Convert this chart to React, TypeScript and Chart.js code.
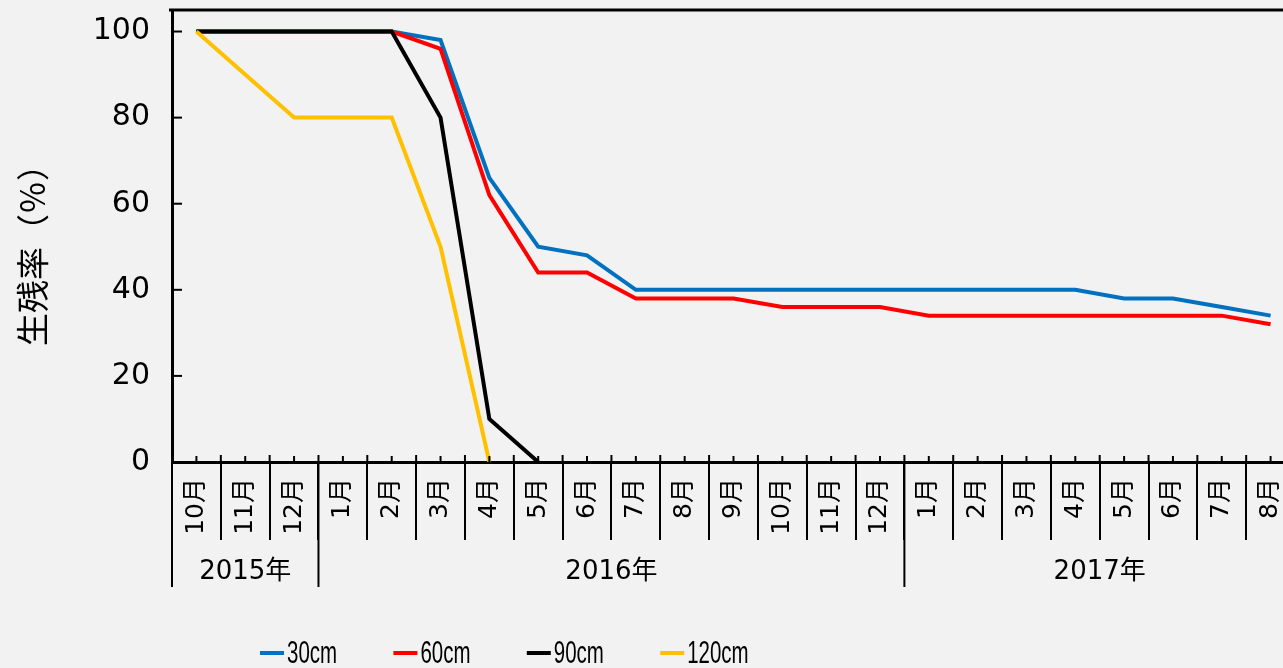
import React, { useEffect, useRef } from 'react';
import { Chart, registerables } from 'chart.js';

Chart.register(...registerables);

const MONTHS = ['10月', '11月', '12月', '1月', '2月', '3月', '4月', '5月', '6月', '7月', '8月', '9月', '10月', '11月', '12月', '1月', '2月', '3月', '4月', '5月', '6月', '7月', '8月'];
const YEAR_LABELS = ['2015年', '2016年', '2017年'];
const YEAR_SPANS = [3, 12, 8];
const Y_TICKS = [0, 20, 40, 60, 80, 100];
const Y_TITLE = '生残率（％）';
const SERIES_LABELS = ['30cm', '60cm', '90cm', '120cm'];
const SERIES_COLORS = ['#0070C0', '#FF0000', '#000000', '#FFC000'];

const S30 = [100, 100, 100, 100, 100, 98, 66, 50, 48, 40, 40, 40, 40, 40, 40, 40, 40, 40, 40, 38, 38, 36, 34];
const S60 = [100, 100, 100, 100, 100, 96, 62, 44, 44, 38, 38, 38, 36, 36, 36, 34, 34, 34, 34, 34, 34, 34, 32];
const S90 = [100, 100, 100, 100, 100, 80, 10, 0, null, null, null, null, null, null, null, null, null, null, null, null, null, null, null];
const S120 = [100, 90, 80, 80, 80, 50, 0, null, null, null, null, null, null, null, null, null, null, null, null, null, null, null, null];

const SERIES = [S30, S60, S90, S120];

const FONT_NUM = '"DejaVu Sans", "Noto Sans CJK JP", sans-serif';

const decorPlugin = {
  id: 'decor',
  afterDraw(chart: any) {
    const { ctx, chartArea, scales } = chart;
    const xs = scales.x;
    const ys = scales.y;
    const n = MONTHS.length;
    const half = (xs.getPixelForValue(1) - xs.getPixelForValue(0)) / 2;
    const boundary = (i: number) => (i < n ? xs.getPixelForValue(i) - half : xs.getPixelForValue(n - 1) + half);
    const bottom = chartArea.bottom;
    const line = (x1: number, y1: number, x2: number, y2: number) => {
      ctx.beginPath();
      ctx.moveTo(x1, y1);
      ctx.lineTo(x2, y2);
      ctx.stroke();
    };
    ctx.save();
    ctx.strokeStyle = '#000';
    ctx.lineCap = 'butt';
    // top frame
    ctx.lineWidth = 3;
    line(chartArea.left - 3, chartArea.top, chartArea.right, chartArea.top);
    // inner y tick marks
    ctx.lineWidth = 2;
    for (const v of Y_TICKS) {
      const py = ys.getPixelForValue(v);
      line(chartArea.left, py, chartArea.left + 10, py);
    }
    // small upward marks at category centres and boundaries
    for (let i = 0; i < n; i++) {
      const px = xs.getPixelForValue(i);
      line(px, bottom - 6, px, bottom);
    }
    for (let i = 0; i <= n; i++) {
      const bx = boundary(i);
      line(bx, bottom - 7, bx, bottom);
    }
    // year separators and labels
    let idx = 0;
    const yearBounds = [0];
    for (const s of YEAR_SPANS) {
      idx += s;
      yearBounds.push(idx);
    }
    for (const b of yearBounds) {
      const bx = boundary(b);
      line(bx, bottom, bx, bottom + 125);
    }
    ctx.fillStyle = '#000';
    ctx.font = '26px ' + FONT_NUM;
    ctx.textAlign = 'center';
    ctx.textBaseline = 'alphabetic';
    for (let k = 0; k < YEAR_LABELS.length; k++) {
      const cx = (boundary(yearBounds[k]) + boundary(yearBounds[k + 1])) / 2;
      ctx.fillText(YEAR_LABELS[k], cx, bottom + 117);
    }
    // y title
    ctx.save();
    ctx.translate(32, 247);
    ctx.rotate(-Math.PI / 2);
    ctx.font = '33px "Noto Sans CJK JP", sans-serif';
    ctx.textAlign = 'center';
    ctx.textBaseline = 'middle';
    ctx.fillText(Y_TITLE, 0, 0);
    ctx.restore();
    // legend
    const ds = chart.data.datasets;
    for (let i = 0; i < ds.length; i++) {
      const sx = 260 + i * 133.4;
      ctx.strokeStyle = ds[i].borderColor;
      ctx.lineWidth = 4;
      line(sx, 653, sx + 24, 653);
      ctx.save();
      ctx.translate(sx + 27, 663);
      ctx.scale(0.64, 1);
      ctx.font = '32px "Liberation Sans", Arial, sans-serif';
      ctx.textAlign = 'left';
      ctx.fillStyle = '#000';
      ctx.fillText(ds[i].label, 0, 0);
      ctx.restore();
    }
    ctx.restore();
  },
};

export default function App() {
  const ref = useRef<HTMLCanvasElement | null>(null);
  useEffect(() => {
    if (!ref.current) return;
    const chart = new Chart(ref.current, {
      type: 'line',
      data: {
        labels: MONTHS,
        datasets: SERIES.map((d, i) => ({
          label: SERIES_LABELS[i],
          data: d,
          borderColor: SERIES_COLORS[i],
          backgroundColor: SERIES_COLORS[i],
          borderWidth: 4,
          pointRadius: 0,
          tension: 0,
          spanGaps: false,
          order: SERIES.length - i,
        })),
      },
      options: {
        responsive: false,
        animation: false,
        devicePixelRatio: 1,
        layout: { padding: { left: 0, top: 10, right: 15, bottom: 0 } },
        plugins: {
          legend: { display: false },
          tooltip: { enabled: false },
          title: { display: false },
        },
        scales: {
          x: {
            type: 'category',
            offset: true,
            grid: {
              offset: true,
              drawOnChartArea: false,
              drawTicks: true,
              tickLength: 78,
              color: '#000',
              lineWidth: 2,
            },
            border: { display: true, color: '#000', width: 3 },
            ticks: {
              autoSkip: false,
              minRotation: 90,
              maxRotation: 90,
              padding: -62,
              color: '#000',
              font: { family: FONT_NUM, size: 25 },
            },
            afterFit: (s: any) => {
              s.height = 206;
              s.paddingLeft = 0;
              s.paddingRight = 0;
            },
          },
          y: {
            min: 0,
            max: 105,
            grid: { display: false, drawTicks: false },
            border: { display: true, color: '#000', width: 3 },
            ticks: {
              padding: 22,
              color: '#000',
              font: { family: FONT_NUM, size: 30 },
            },
            afterBuildTicks: (s: any) => {
              s.ticks = Y_TICKS.map((v) => ({ value: v }));
            },
            afterFit: (s: any) => {
              s.width = 172;
              s.paddingTop = 0;
              s.paddingBottom = 0;
            },
          },
        },
      },
      plugins: [decorPlugin],
    });
    return () => chart.destroy();
  }, []);
  return (
    <div style={{ position: 'absolute', left: 0, top: 0, width: 1283, height: 668, overflow: 'hidden', background: '#f2f2f2' }}>
      <canvas ref={ref} width={1310} height={668} style={{ display: 'block' }} />
    </div>
  );
}
